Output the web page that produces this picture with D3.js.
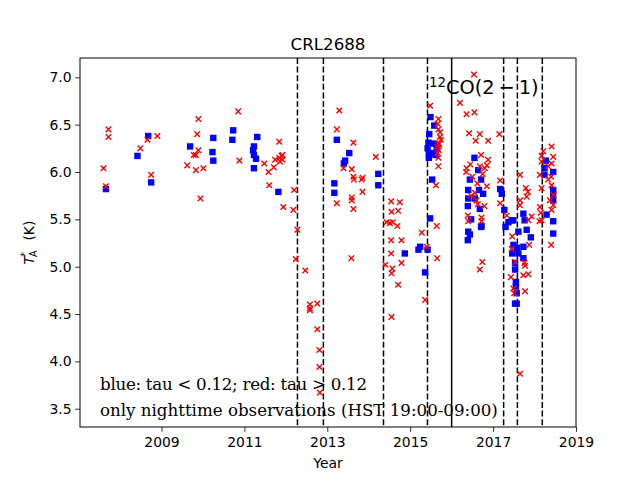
<!DOCTYPE html>
<html><head><meta charset="utf-8">
<script src="https://cdn.jsdelivr.net/npm/d3@7"></script>
<style>body{margin:0;background:#fff}svg{display:block}</style>
</head><body>
<script>
const title = "CRL2688";
const xTicks = [2009, 2011, 2013, 2015, 2017, 2019];
const yTicks = [3.5, 4.0, 4.5, 5.0, 5.5, 6.0, 6.5, 7.0];
const dashedYears = [2012.28, 2012.906, 2014.356, 2015.417, 2017.254, 2017.586, 2018.187];
const solidYear = [2016.0];

const blueYear = [2007.66,2008.42,2008.68,2008.75,2009.69,2010.23,2010.25,2010.25,2010.73,2010.71,
 2011.31,2011.23,2011.21,2011.23,2011.28,2011.23,2011.82,
 2013.17,2013.17,2013.23,2013.53,2013.43,2013.40,2014.23,2014.23,2014.87,
 2015.36,2015.24,2015.20,2015.42,2015.48,2015.53,2015.49,2015.58,2015.46,2015.44,2015.58,2015.42,2015.64,2015.45,2015.60,2015.61,2015.45,
 2016.55,2016.64,2016.44,2016.71,2016.40,2016.66,2016.76,2016.40,2016.56,2016.39,2016.68,2016.47,2016.71,2016.40,2016.44,2016.39,2016.72,
 2017.17,2017.21,2017.27,2017.37,2017.30,2017.45,2017.73,2017.49,2017.76,2017.61,2017.81,2017.91,2017.49,2017.57,2017.73,2017.46,2017.61,2017.73,2017.53,2017.53,2017.55,2017.55,2017.57,2017.53,2017.57,
 2018.27,2018.24,2018.24,2018.45,2018.45,2018.45,2018.45,2018.29,2018.45,2018.45];
const blueVal = [5.82,6.17,6.38,5.89,6.27,6.21,6.12,6.36,6.44,6.34,
 6.37,6.27,6.23,6.18,6.14,6.04,5.79,
 5.88,5.78,6.34,6.20,6.12,6.09,5.98,5.86,5.14,
 4.94,5.21,5.18,5.18,5.51,5.92,6.58,6.49,6.40,6.31,6.30,6.25,6.25,6.20,6.20,6.18,6.15,
 6.15,6.02,5.92,5.92,5.81,5.81,5.77,5.72,5.72,5.64,5.61,5.50,5.42,5.37,5.34,5.28,5.43,
 5.82,5.77,5.60,5.47,5.42,5.49,5.56,5.49,5.49,5.37,5.39,5.31,5.23,5.20,5.21,5.14,5.14,5.09,5.04,4.97,4.84,4.79,4.72,4.61,4.61,
 6.12,6.04,5.97,6.00,5.81,5.76,5.70,5.55,5.48,5.35];

const redYear = [2007.60,2007.72,2007.72,2007.66,2008.49,2008.66,2008.90,2008.75,
 2009.89,2009.86,2009.89,2009.78,2009.83,2009.62,2009.83,2010.01,2009.94,2010.85,2010.88,
 2011.84,2011.74,2011.84,2011.90,2011.92,2011.86,2011.92,2011.48,2011.71,2011.58,2011.60,2012.20,2011.94,2012.18,2012.28,2012.24,2012.47,
 2012.58,2012.76,2012.58,2012.58,2012.76,2012.81,2012.81,2012.82,
 2013.29,2013.23,2013.63,2013.39,2013.59,2013.63,2013.64,2013.85,2013.83,2013.85,2013.23,2013.59,2013.59,2013.63,2013.58,2014.17,
 2014.54,2014.75,2014.55,2014.71,2014.43,2014.51,2014.58,2014.69,2014.54,2014.79,2014.54,2014.79,2014.40,2014.57,2014.55,2014.71,2014.55,
 2015.48,2015.68,2015.66,2015.68,2015.72,2015.74,2015.68,2015.69,2015.66,2015.68,2015.68,2015.62,2015.64,2015.28,2015.40,2015.65,2015.36,2015.72,2015.70,2015.66,
 2016.20,2016.54,2016.36,2016.55,2016.42,2016.68,2016.58,2016.88,2017.15,2016.71,2016.88,2016.85,2016.36,2016.35,2016.68,2016.80,2016.85,2016.56,2016.63,2016.79,2016.39,2016.72,2016.40,2016.74,2016.68,2016.72,
 2016.50,2016.62,2016.47,2016.60,2016.75,2016.45,
 2017.17,2017.17,2017.33,2017.65,2017.79,2017.84,2017.81,2017.65,2017.65,2017.93,2017.85,2017.46,2017.87,2017.45,2017.53,2017.77,2017.76,2017.73,2017.85,2017.43,2017.49,2017.77,2017.51,2017.65,
 2018.41,2018.21,2018.45,2018.17,2018.33,2018.41,2018.40,2018.33,2018.17,2018.41,2018.45,2018.37,2018.45,2018.13,2018.41,2018.17,2018.40,2018.17,2018.13,2018.15,2018.12];
const redVal = [6.04,6.45,6.37,5.85,6.25,6.34,6.38,5.97,
 6.56,6.40,6.23,6.18,6.18,6.07,6.02,6.04,5.72,6.64,6.12,
 6.32,6.13,6.15,6.17,6.18,6.11,6.13,6.09,6.05,6.00,5.86,5.81,5.63,5.60,5.39,5.08,4.96,
 4.60,4.61,4.56,4.54,4.34,4.12,3.94,3.67,
 6.65,6.45,6.31,6.04,6.03,5.95,5.92,5.94,5.92,5.79,5.67,5.73,5.70,5.61,5.09,6.16,
 5.69,5.68,5.58,5.59,5.47,5.46,5.47,5.43,5.28,5.28,5.14,5.04,5.02,4.98,4.93,4.81,4.47,
 6.70,6.56,6.51,6.45,6.37,6.34,6.29,6.23,6.20,6.15,6.06,5.86,5.43,5.36,5.21,5.09,4.65,6.42,6.30,6.27,
 6.73,7.03,6.61,6.63,6.41,6.40,6.33,6.33,6.40,6.18,6.13,6.07,6.04,6.00,6.06,6.04,5.85,5.78,5.66,5.64,5.54,5.48,5.48,5.05,4.97,5.52,
 5.95,5.88,5.75,5.70,5.98,6.08,
 5.91,5.67,5.54,5.97,5.83,5.79,5.74,5.70,5.65,5.53,5.49,5.32,5.23,5.19,5.05,5.01,5.04,4.91,4.92,4.89,4.77,4.74,4.72,3.87,
 6.27,6.22,6.16,6.11,6.06,6.09,5.95,5.92,5.83,5.86,5.76,5.70,5.65,5.63,5.60,5.49,5.23,6.17,5.97,5.57,5.48];

const W = 640, H = 480;
const m = {l: 80, r: 576, t: 58, b: 427};
const svg = d3.select("body").append("svg").attr("width", W).attr("height", H)
  .style("font-family", "'DejaVu Sans', sans-serif");

const x = d3.scaleLinear().domain([2007.034, 2019.0]).range([m.l, m.r]);
const y = d3.scaleLinear().domain([3.307, 7.204]).range([m.b, m.t]);

svg.append("defs").append("clipPath").attr("id", "clip")
  .append("rect").attr("x", m.l).attr("y", m.t).attr("width", m.r - m.l).attr("height", m.b - m.t);

const plot = svg.append("g").attr("clip-path", "url(#clip)");

// vertical lines
plot.selectAll("line.dash").data(dashedYears).enter().append("line")
  .attr("x1", d => x(d)).attr("x2", d => x(d)).attr("y1", m.t).attr("y2", m.b)
  .attr("stroke", "#000").attr("stroke-width", 1.5).attr("stroke-dasharray", "6,2.6");
plot.selectAll("line.solid").data(solidYear).enter().append("line")
  .attr("x1", d => x(d)).attr("x2", d => x(d)).attr("y1", m.t).attr("y2", m.b)
  .attr("stroke", "#000").attr("stroke-width", 1.5);

const blue = blueYear.map((d, i) => ({yr: d, v: blueVal[i]}));
const red = redYear.map((d, i) => ({yr: d, v: redVal[i]}));

const s = 6.4;
plot.selectAll("rect.b").data(blue).enter().append("rect")
  .attr("x", d => x(d.yr) - s / 2).attr("y", d => y(d.v) - s / 2)
  .attr("width", s).attr("height", s).attr("fill", "#0000ff");

const h = 2.8;
plot.selectAll("path.r").data(red).enter().append("path")
  .attr("d", d => {
    const cx = x(d.yr), cy = y(d.v);
    return `M${cx - h},${cy - h}L${cx + h},${cy + h}M${cx - h},${cy + h}L${cx + h},${cy - h}`;
  })
  .attr("stroke", "#ff0000").attr("stroke-width", 1.4).attr("fill", "none");

// axes
const xAxis = d3.axisBottom(x).tickValues(xTicks).tickFormat(d3.format("d")).tickSize(4.9).tickPadding(5.5);
const yAxis = d3.axisLeft(y).tickValues(yTicks).tickFormat(d3.format(".1f")).tickSize(4.9).tickPadding(3.5);
const gx = svg.append("g").attr("transform", `translate(0,${m.b})`).call(xAxis);
const gy = svg.append("g").attr("transform", `translate(${m.l},0)`).call(yAxis);
[gx, gy].forEach(g => {
  g.select(".domain").remove();
  g.selectAll("text").attr("font-size", "13.9px").attr("font-family", "'DejaVu Sans', sans-serif").attr("fill", "#000");
  g.selectAll("line").attr("stroke", "#000").attr("stroke-width", 0.8);
});

svg.append("rect").attr("x", m.l).attr("y", m.t).attr("width", m.r - m.l).attr("height", m.b - m.t)
  .attr("fill", "none").attr("stroke", "#000").attr("stroke-width", 1);

// title
svg.append("text").attr("x", (m.l + m.r) / 2).attr("y", 50).attr("text-anchor", "middle")
  .attr("font-size", "16.67px").text(title);

// x label
svg.append("text").attr("x", (m.l + m.r) / 2).attr("y", 467.5).attr("text-anchor", "middle")
  .attr("font-size", "13.9px").text("Year");

// y label
const yl = svg.append("text").attr("transform", `translate(34,${(m.t + m.b) / 2}) rotate(-90)`)
  .attr("text-anchor", "middle").attr("font-size", "13.9px");
yl.append("tspan").attr("font-style", "italic").text("T");
yl.append("tspan").attr("font-size", "9.7px").attr("dy", 3).attr("dx", -1).text("A");
yl.append("tspan").attr("font-size", "9.7px").attr("dy", -9).attr("dx", -6.5).text("*");
yl.append("tspan").attr("dy", 6).text("\u2002 (K)");

// annotation
svg.append("text").attr("x", 429).attr("y", 87).attr("font-size", "13.5px").text("12");
svg.append("text").attr("x", 446).attr("y", 94).attr("font-size", "19.4px").text("CO(2\u2009\u2212\u20091)");

// notes
svg.append("text").attr("x", 100).attr("y", 389.5).attr("font-family", "'DejaVu Serif', serif")
  .attr("font-size", "16.67px").attr("textLength", 267).attr("lengthAdjust", "spacing")
  .text("blue: tau < 0.12; red: tau > 0.12");
svg.append("text").attr("x", 100).attr("y", 415.5).attr("font-family", "'DejaVu Serif', serif")
  .attr("font-size", "16.67px").text("only nighttime observations (HST 19:00-09:00)");
</script>
</body></html>
